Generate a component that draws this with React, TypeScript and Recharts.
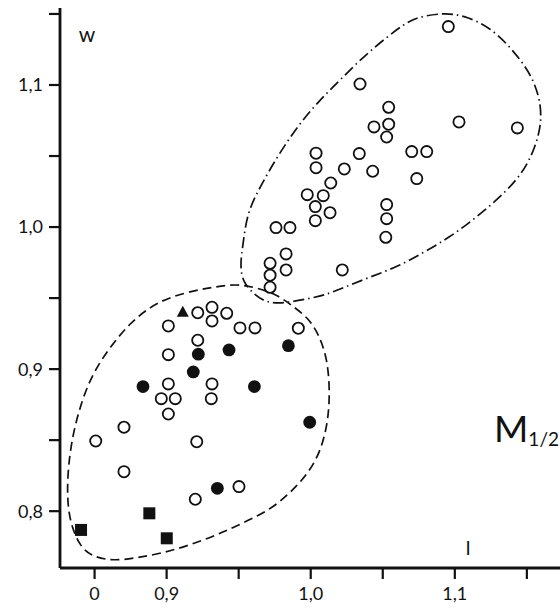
import React from 'react';
import { ScatterChart, Scatter, XAxis, YAxis, Customized } from 'recharts';

// ---- data (x = l, y = w) ----
const openLower = [
  { x: 0.9216, y: 0.9397 }, { x: 0.9315, y: 0.9435 }, { x: 0.9315, y: 0.9339 },
  { x: 0.9417, y: 0.9393 }, { x: 0.9012, y: 0.9304 }, { x: 0.9509, y: 0.929 },
  { x: 0.9613, y: 0.929 }, { x: 0.9914, y: 0.9288 }, { x: 0.9216, y: 0.9203 },
  { x: 0.9012, y: 0.9102 }, { x: 0.9012, y: 0.8896 }, { x: 0.9315, y: 0.8896 },
  { x: 0.8963, y: 0.8792 }, { x: 0.906, y: 0.8792 }, { x: 0.931, y: 0.8792 },
  { x: 0.9012, y: 0.8684 }, { x: 0.8704, y: 0.8591 }, { x: 0.8508, y: 0.8494 },
  { x: 0.9209, y: 0.8489 }, { x: 0.8704, y: 0.8278 }, { x: 0.9502, y: 0.8173 },
  { x: 0.9199, y: 0.8084 },
];

const openUpper = [
  { x: 1.0955, y: 1.1411 }, { x: 1.0342, y: 1.1007 }, { x: 1.0541, y: 1.0843 },
  { x: 1.0439, y: 1.0705 }, { x: 1.0541, y: 1.0724 }, { x: 1.0527, y: 1.0634 },
  { x: 1.1029, y: 1.074 }, { x: 1.1434, y: 1.0698 }, { x: 1.0037, y: 1.052 },
  { x: 1.0337, y: 1.0517 }, { x: 1.0701, y: 1.0531 }, { x: 1.0805, y: 1.0531 },
  { x: 1.0037, y: 1.0418 }, { x: 1.0233, y: 1.0409 }, { x: 1.043, y: 1.0393 },
  { x: 1.0736, y: 1.0341 }, { x: 1.0139, y: 1.031 }, { x: 0.9976, y: 1.0228 },
  { x: 1.0087, y: 1.0221 }, { x: 1.0032, y: 1.0144 }, { x: 1.0134, y: 1.0101 },
  { x: 1.0032, y: 1.0045 }, { x: 1.0527, y: 1.0158 }, { x: 1.0527, y: 1.0059 },
  { x: 1.0521, y: 0.9928 }, { x: 0.9759, y: 0.9996 }, { x: 0.9856, y: 0.9996 },
  { x: 0.9829, y: 0.9811 }, { x: 0.9718, y: 0.9745 }, { x: 0.9829, y: 0.9698 },
  { x: 1.0219, y: 0.9698 }, { x: 0.9718, y: 0.9661 }, { x: 0.9718, y: 0.9576 },
];

const filledCircles = [
  { x: 0.922, y: 0.9105 }, { x: 0.9433, y: 0.9135 }, { x: 0.9845, y: 0.9165 },
  { x: 0.9185, y: 0.898 }, { x: 0.8836, y: 0.8877 }, { x: 0.9609, y: 0.8877 },
  { x: 0.9993, y: 0.8626 }, { x: 0.9352, y: 0.8161 },
];

const filledSquares = [
  { x: 0.888, y: 0.7985 }, { x: 0.8406, y: 0.7868 }, { x: 0.9001, y: 0.7809 },
];

const filledTriangles = [{ x: 0.9112, y: 0.9404 }];

const lowerEnvelope = [
  { x: 0.8746, y: 0.9325 }, { x: 0.8885, y: 0.9438 }, { x: 0.9024, y: 0.9508 },
  { x: 0.9211, y: 0.9557 }, { x: 0.9336, y: 0.9578 }, { x: 0.9475, y: 0.9599 },
  { x: 0.9613, y: 0.9578 }, { x: 0.9773, y: 0.9522 }, { x: 0.9891, y: 0.9431 },
  { x: 0.9981, y: 0.936 }, { x: 1.0051, y: 0.9255 }, { x: 1.0113, y: 0.9086 },
  { x: 1.0134, y: 0.8853 }, { x: 1.012, y: 0.8621 }, { x: 1.0065, y: 0.841 },
  { x: 0.9974, y: 0.8255 }, { x: 0.9856, y: 0.8128 }, { x: 0.9718, y: 0.8009 },
  { x: 0.953, y: 0.7917 }, { x: 0.935, y: 0.7833 }, { x: 0.9162, y: 0.7762 },
  { x: 0.8975, y: 0.7706 }, { x: 0.8795, y: 0.7671 }, { x: 0.8628, y: 0.765 },
  { x: 0.8489, y: 0.7678 }, { x: 0.8399, y: 0.7748 }, { x: 0.833, y: 0.7917 },
  { x: 0.8309, y: 0.81 }, { x: 0.8316, y: 0.8311 }, { x: 0.835, y: 0.8551 },
  { x: 0.8413, y: 0.8783 }, { x: 0.8489, y: 0.8973 }, { x: 0.8607, y: 0.9156 },
];

const upperEnvelope = [
  { x: 1.0738, y: 1.1479 }, { x: 1.0918, y: 1.1507 }, { x: 1.1057, y: 1.1493 },
  { x: 1.1244, y: 1.1409 }, { x: 1.1404, y: 1.1247 }, { x: 1.1543, y: 1.1057 },
  { x: 1.1605, y: 1.0845 }, { x: 1.1591, y: 1.0662 }, { x: 1.1522, y: 1.0472 },
  { x: 1.1432, y: 1.0332 }, { x: 1.1293, y: 1.0191 }, { x: 1.1126, y: 1.005 },
  { x: 1.0967, y: 0.993 }, { x: 1.0779, y: 0.9818 }, { x: 1.0599, y: 0.9719 },
  { x: 1.0412, y: 0.9649 }, { x: 1.0224, y: 0.9571 }, { x: 1.0099, y: 0.9522 },
  { x: 1.0009, y: 0.9501 }, { x: 0.9801, y: 0.9459 }, { x: 0.9683, y: 0.9473 },
  { x: 0.9613, y: 0.9522 }, { x: 0.953, y: 0.9607 }, { x: 0.9509, y: 0.9733 },
  { x: 0.953, y: 0.9874 }, { x: 0.9558, y: 1.0099 }, { x: 0.9648, y: 1.0282 },
  { x: 0.9766, y: 1.0493 }, { x: 0.9905, y: 1.0705 }, { x: 1.0044, y: 1.0874 },
  { x: 1.0203, y: 1.1035 }, { x: 1.0363, y: 1.1197 }, { x: 1.053, y: 1.1338 },
  { x: 1.0641, y: 1.1423 },
];

const xTicks = [0.85, 0.9, 0.95, 1.0, 1.05, 1.1, 1.15];
const xTickLabels = ['0', '0,9', '', '1,0', '', '1,1', ''];
const yTicks = [0.8, 0.85, 0.9, 0.95, 1.0, 1.05, 1.1, 1.15];
const yTickLabels = ['0,8', '', '0,9', '', '1,0', '', '1,1', ''];

const FONT = 'Lato, "Open Sans", sans-serif';
const INK = '#111';

const fmt = (ticks: number[], labels: string[]) => (v: number) => {
  const i = ticks.findIndex((t) => Math.abs(t - v) < 1e-6);
  return i >= 0 ? labels[i] : '';
};

const OpenCircle = (p: any) => (
  <circle cx={p.cx} cy={p.cy} r={5.6} fill="none" stroke={INK} strokeWidth={1.8} />
);
const FilledCircle = (p: any) => <circle cx={p.cx} cy={p.cy} r={6.4} fill={INK} />;
const FilledSquare = (p: any) => (
  <rect x={p.cx - 6} y={p.cy - 6} width={12} height={12} fill={INK} />
);
const FilledTriangle = (p: any) => (
  <path d={`M${p.cx},${p.cy - 6} L${p.cx + 6},${p.cy + 5} L${p.cx - 6},${p.cy + 5} Z`} fill={INK} />
);
const NoShape = () => <g />;

const Annotations = () => (
  <g fontFamily={FONT} fill={INK}>
    <text x={87} y={42} fontSize={21} textAnchor="middle">w</text>
    <text x={494} y={442} fontSize={37}>
      M<tspan fontSize={19} dy={4}>1/2</tspan>
    </text>
    <text x={468} y={555} fontSize={20} textAnchor="middle">l</text>
  </g>
);

export default function App() {
  return (
    <div style={{ position: 'absolute', left: 0, top: 0, width: 560, height: 612, background: '#fff' }}>
      <ScatterChart width={560} height={612} margin={{ top: 8, right: 0, bottom: 0, left: 0 }}>
        <XAxis
          type="number"
          dataKey="x"
          domain={[0.826, 1.173]}
          allowDataOverflow
          ticks={xTicks}
          interval={0}
          tickFormatter={fmt(xTicks, xTickLabels)}
          height={44}
          tickSize={11}
          tickMargin={8}
          axisLine={{ stroke: INK, strokeWidth: 2.8 }}
          tickLine={{ stroke: INK, strokeWidth: 2.2 }}
          tick={{ fill: INK, fontSize: 18, fontFamily: FONT }}
        />
        <YAxis
          type="number"
          dataKey="y"
          domain={[0.76, 1.1542]}
          allowDataOverflow
          ticks={yTicks}
          interval={0}
          tickFormatter={fmt(yTicks, yTickLabels)}
          width={60}
          tickSize={11}
          tickMargin={6}
          axisLine={{ stroke: INK, strokeWidth: 2.8 }}
          tickLine={{ stroke: INK, strokeWidth: 2.2 }}
          tick={{ fill: INK, fontSize: 18, fontFamily: FONT }}
        />
        <Scatter
          data={lowerEnvelope}
          line={{ stroke: INK, strokeWidth: 1.7, strokeDasharray: '9 5' }}
          lineType="joint"
          lineJointType="basisClosed"
          shape={NoShape}
          isAnimationActive={false}
        />
        <Scatter
          data={upperEnvelope}
          line={{ stroke: INK, strokeWidth: 1.7, strokeDasharray: '11 4 1.5 4' }}
          lineType="joint"
          lineJointType="basisClosed"
          shape={NoShape}
          isAnimationActive={false}
        />
        <Scatter data={openLower} shape={OpenCircle} isAnimationActive={false} />
        <Scatter data={openUpper} shape={OpenCircle} isAnimationActive={false} />
        <Scatter data={filledCircles} shape={FilledCircle} isAnimationActive={false} />
        <Scatter data={filledSquares} shape={FilledSquare} isAnimationActive={false} />
        <Scatter data={filledTriangles} shape={FilledTriangle} isAnimationActive={false} />
        <Customized component={Annotations} />
      </ScatterChart>
    </div>
  );
}
